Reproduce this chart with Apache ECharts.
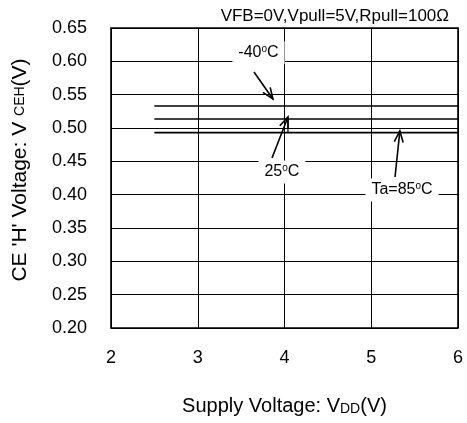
<!DOCTYPE html>
<html>
<head>
<meta charset="utf-8">
<script src="https://cdn.jsdelivr.net/npm/echarts@6/dist/echarts.min.js"></script>
<style>html,body{margin:0;padding:0;background:#fff}#c{width:467px;height:423px}</style>
</head>
<body>
<div id="c"></div>
<script>
// Data
var supplyVoltage = [2.5, 6];
var ceh_m40 = [0.533, 0.533];
var ceh_25 = [0.5135, 0.5135];
var ceh_85 = [0.493, 0.493];
var xTicks = [2, 3, 4, 5, 6];
var yTicks = [0.20, 0.25, 0.30, 0.35, 0.40, 0.45, 0.50, 0.55, 0.60, 0.65];
var conditionText = 'VFB=0V,Vpull=5V,Rpull=100Ω';
// annotations: label, label position [x,y], arrow start, arrow end (data units)
var annLabels = ['-40{sup|o}C', '25{sup|o}C', 'Ta=85{sup|o}C'];
var annLabelPos = [[3.70, 0.613], [3.97, 0.434], [5.355, 0.407]];
var annArrowFrom = [[3.648, 0.584], [3.856, 0.455], [5.274, 0.4265]];
var annArrowTo = [[3.867, 0.5435], [4.04, 0.5165], [5.33, 0.4955]];
var marker25 = [[4.04, 0.5135], [4.04, 0.493]];

function pairs(xs, ys) { return xs.map(function (x, i) { return [x, ys[i]]; }); }

var chart = echarts.init(document.getElementById('c'), null, { renderer: 'canvas' });
var FONT = 'Liberation Sans, Arial, sans-serif';
var lineSeries = function (name, ys) {
  return {
    name: name, type: 'line', data: pairs(supplyVoltage, ys), symbol: 'none',
    lineStyle: { color: '#000', width: 1.6 }, silent: true, z: 3
  };
};

var annData = annLabels.map(function (l, i) { return i; });

chart.setOption({
  animation: false,
  backgroundColor: '#fff',
  grid: { left: 111, right: 9, top: 28, bottom: 95, show: true, borderColor: '#000', borderWidth: 1.6, backgroundColor: 'transparent' },
  title: {
    text: conditionText, right: 13, top: 3,
    textStyle: { fontFamily: FONT, fontSize: 17, fontWeight: 'normal', color: '#000' }
  },
  xAxis: {
    type: 'value', min: xTicks[0], max: xTicks[xTicks.length - 1], interval: 1,
    axisLine: { show: false }, axisTick: { show: false },
    splitLine: { show: true, lineStyle: { color: '#000', width: 1 } },
    axisLabel: { margin: 21, fontFamily: FONT, fontSize: 18, color: '#000' },
    name: 'Supply Voltage: V{sub|DD}(V)', nameLocation: 'middle', nameGap: 68,
    nameTextStyle: { fontFamily: FONT, fontSize: 20, color: '#000',
      rich: { sub: { fontFamily: FONT, fontSize: 14, color: '#000', verticalAlign: 'bottom', padding: [6, 0, 0, 0] } } }
  },
  yAxis: {
    type: 'value', min: yTicks[0], max: yTicks[yTicks.length - 1], interval: 0.05,
    axisLine: { show: false }, axisTick: { show: false },
    splitLine: { show: true, lineStyle: { color: '#000', width: 1 } },
    axisLabel: { margin: 24, fontFamily: FONT, fontSize: 18, color: '#000', formatter: function (v) { return v.toFixed(2); } },
    name: "CE 'H' Voltage: V {sub|CEH}(V)", nameLocation: 'middle', nameGap: 80,
    nameTextStyle: { fontFamily: FONT, fontSize: 21, color: '#000', padding: [0, 0, 0, 16],
      rich: { sub: { fontFamily: FONT, fontSize: 14, color: '#000' } } }
  },
  series: [
    lineSeries('-40', ceh_m40),
    lineSeries('25', ceh_25),
    lineSeries('85', ceh_85),
    {
      type: 'line', data: marker25, symbol: 'none', lineStyle: { color: '#000', width: 1.2 }, silent: true, z: 3
    },
    {
      type: 'custom', data: annData, silent: true, z: 10, clip: false,
      renderItem: function (params, api) {
        var i = api.value(0);
        var a = api.coord(annArrowFrom[i]);
        var b = api.coord(annArrowTo[i]);
        var t = api.coord(annLabelPos[i]);
        var ang = Math.atan2(b[1] - a[1], b[0] - a[0]);
        var hl = 12, ha = 0.38;
        var h1 = [b[0] - hl * Math.cos(ang - ha), b[1] - hl * Math.sin(ang - ha)];
        var h2 = [b[0] - hl * Math.cos(ang + ha), b[1] - hl * Math.sin(ang + ha)];
        return {
          type: 'group',
          children: [
            { type: 'line', shape: { x1: a[0], y1: a[1], x2: b[0], y2: b[1] }, style: { stroke: '#000', lineWidth: 1.6 } },
            { type: 'polyline', shape: { points: [h1, b, h2] }, style: { stroke: '#000', lineWidth: 1.6, fill: null } },
            { type: 'text', x: t[0], y: t[1], style: {
                text: annLabels[i], fontFamily: FONT, fontSize: 16, fill: '#000',
                align: 'center', verticalAlign: 'middle', backgroundColor: '#fff', padding: [3, 6, 3, 6],
                rich: { sup: { fontFamily: FONT, fontSize: 10, fill: '#000', padding: [0, 0, 7, 0] } } } }
          ]
        };
      }
    }
  ]
});
</script>
</body>
</html>
